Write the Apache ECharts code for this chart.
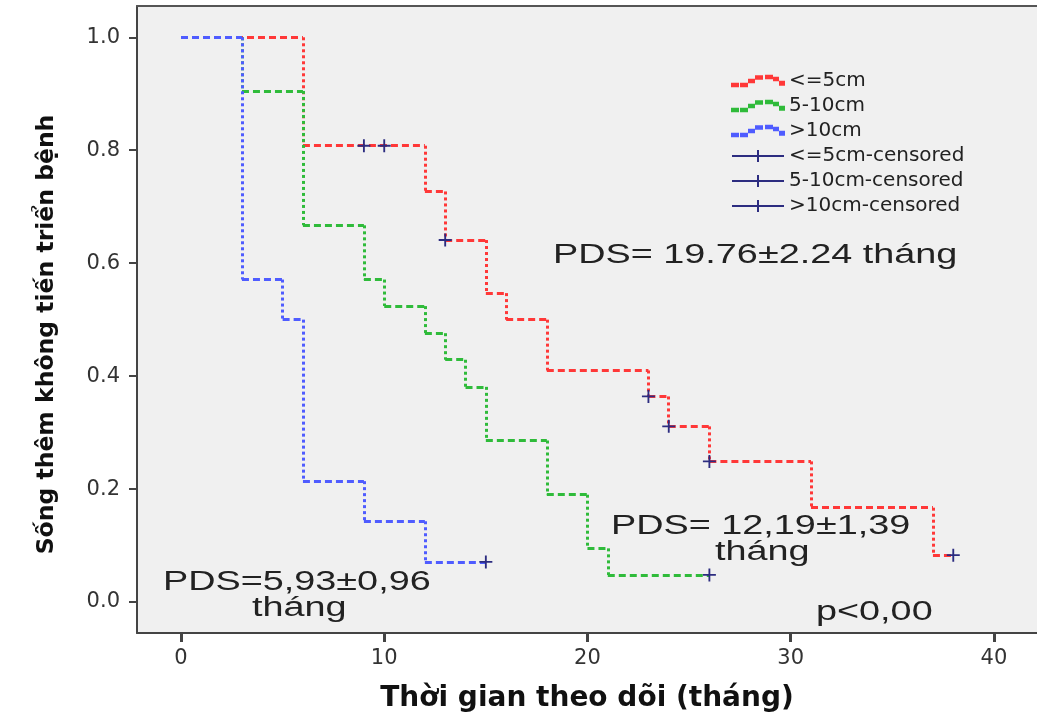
<!DOCTYPE html>
<html>
<head>
<meta charset="utf-8">
<script src="https://cdn.jsdelivr.net/npm/echarts@6/dist/echarts.min.js"></script>
<style>html,body{margin:0;padding:0;background:#fff;}#c{width:1037px;height:721px;}</style>
</head>
<body>
<div id="c"></div>
<script>
// ---- data ----
const xTicks = [0, 10, 20, 30, 40];
const yTicks = [0, 0.2, 0.4, 0.6, 0.8, 1.0];

const seriesNames = ['<=5cm', '5-10cm', '>10cm'];
const censorNames = ['<=5cm-censored', '5-10cm-censored', '>10cm-censored'];

const redTimes = [0, 6, 12, 13, 15, 16, 18, 23, 24, 26, 31, 37];
const redSurv  = [1, 0.808, 0.727, 0.641, 0.547, 0.5, 0.41, 0.364, 0.311, 0.249, 0.167, 0.083];
const redEnd = 38;
const redCensor = [9, 10, 13, 23, 24, 26, 38];

const greenTimes = [0, 3, 6, 9, 10, 12, 13, 14, 15, 18, 20, 21];
const greenSurv  = [1, 0.905, 0.667, 0.571, 0.524, 0.476, 0.429, 0.381, 0.286, 0.19, 0.095, 0.048];
const greenEnd = 26;
const greenCensor = [26];

const blueTimes = [0, 3, 5, 6, 9, 12];
const blueSurv  = [1, 0.571, 0.5, 0.214, 0.143, 0.071];
const blueEnd = 15;
const blueCensor = [15];

const annotations = [
  {text: 'PDS= 19.76±2.24 tháng', x: 553, y: 256},
  {text: 'PDS= 12,19±1,39', x: 611, y: 527},
  {text: 'tháng', x: 715, y: 553},
  {text: 'PDS=5,93±0,96', x: 163, y: 583},
  {text: 'tháng', x: 252, y: 609},
  {text: 'p<0,00', x: 816, y: 613}
];

// ---- build ----
const colors = ['#ff3838', '#2fbb3a', '#4f5cff'];
const censorColor = '#2c2c80';
const curves = [
  {t: redTimes, s: redSurv, end: redEnd, c: redCensor},
  {t: greenTimes, s: greenSurv, end: greenEnd, c: greenCensor},
  {t: blueTimes, s: blueSurv, end: blueEnd, c: blueCensor}
];
function survAt(cv, time) {
  let v = cv.s[0];
  for (let i = 0; i < cv.t.length; i++) if (cv.t[i] <= time) v = cv.s[i];
  return v;
}
const series = [];
curves.forEach((cv, k) => {
  const h = [], v = [];
  for (let i = 0; i < cv.t.length; i++) {
    const tNext = i + 1 < cv.t.length ? cv.t[i + 1] : cv.end;
    h.push({coords: [[cv.t[i], cv.s[i]], [tNext, cv.s[i]]]});
    if (i > 0) v.push({coords: [[cv.t[i], cv.s[i - 1]], [cv.t[i], cv.s[i]]]});
  }
  series.push({
    name: seriesNames[k], type: 'lines', coordinateSystem: 'cartesian2d', silent: true,
    z: 2 + k, data: h,
    itemStyle: {color: colors[k]},
    lineStyle: {color: colors[k], width: 3, type: [7, 4], opacity: 1}
  });
  series.push({
    name: seriesNames[k], type: 'lines', coordinateSystem: 'cartesian2d', silent: true,
    z: 2 + k, data: v,
    itemStyle: {color: colors[k]},
    lineStyle: {color: colors[k], width: 3, type: [3, 3], opacity: 1}
  });
});
const plusSym = 'path://M0,6h6v-6h2v6h6v2h-6v6h-2v-6h-6z';
curves.forEach((cv, k) => {
  series.push({
    name: censorNames[k], type: 'scatter', z: 10, silent: true,
    symbol: plusSym, symbolSize: [13, 13],
    itemStyle: {color: censorColor, opacity: 1},
    data: cv.c.map(t => [t, survAt(cv, t)])
  });
});

const dashIcon = 'path://M0,9h6v2.5h-6z M9,9h6v2.5h-6z M17,5h5v2.5h-5z M24,1.5h6v2.5h-6z M34,1h6v2.5h-6z M42,3h4v2.5h-4z M48,7h4v3h-4z';
const censorIcon = 'path://M0,5h25v-5h2v5h25v2h-25v5h-2v-5h-25z';

const chart = echarts.init(document.getElementById('c'), null, {renderer: 'canvas'});
chart.setOption({
  animation: false,
  backgroundColor: '#ffffff',
  grid: {left: 137, right: 0, top: 6, bottom: 88, show: true, backgroundColor: '#f0f0f0', borderWidth: 0},
  legend: {
    orient: 'vertical', left: 726, top: 66, itemWidth: 52, itemHeight: 12, itemGap: 5,
    selectedMode: false,
    textStyle: {fontFamily: 'DejaVu Sans', fontSize: 20, color: '#222'},
    data: seriesNames.map((n, k) => ({name: n, icon: dashIcon, itemStyle: {color: colors[k]}}))
      .concat(censorNames.map(n => ({name: n, icon: censorIcon, itemStyle: {color: censorColor}})))
  },
  xAxis: [{
    type: 'value', min: -2.165, max: 42.12, position: 'bottom',
    axisLine: {show: true, onZero: false, lineStyle: {color: '#444', width: 2}},
    axisTick: {show: true, customValues: xTicks, length: 9, lineStyle: {color: '#444', width: 3}},
    axisLabel: {customValues: xTicks, fontFamily: 'DejaVu Sans', fontSize: 21, color: '#333', margin: 15},
    splitLine: {show: false},
    name: 'Thời gian theo dõi (tháng)', nameLocation: 'middle', nameGap: 52,
    nameTextStyle: {fontFamily: 'DejaVu Sans', fontWeight: 'bold', fontSize: 28, color: '#111'}
  }, {
    type: 'value', min: -2.165, max: 42.12, position: 'top',
    axisLine: {show: true, onZero: false, lineStyle: {color: '#555', width: 2}},
    axisTick: {show: false}, axisLabel: {show: false}, splitLine: {show: false}
  }],
  yAxis: {
    type: 'value', min: -0.0549, max: 1.0554,
    axisLine: {show: true, onZero: false, lineStyle: {color: '#444', width: 2}},
    axisTick: {show: true, customValues: yTicks, length: 8, lineStyle: {color: '#444', width: 2}},
    axisLabel: {customValues: yTicks, formatter: v => v.toFixed(1), fontFamily: 'DejaVu Sans', fontSize: 21, color: '#333', margin: 17},
    splitLine: {show: false},
    name: 'Sống thêm không tiến triển bệnh', nameLocation: 'middle', nameGap: 78,
    nameTextStyle: {fontFamily: 'DejaVu Sans', fontWeight: 'bold', fontSize: 23.5, color: '#111', padding: [0, 30, 0, 0]}
  },
  graphic: annotations.map(a => ({
    type: 'text', x: a.x, y: a.y, scaleX: 1.4, z: 20, silent: true,
    style: {text: a.text, fontFamily: 'Liberation Sans', fontSize: 27, fill: '#222', align: 'left', verticalAlign: 'middle'}
  })),
  series: series
});
</script>
</body>
</html>
